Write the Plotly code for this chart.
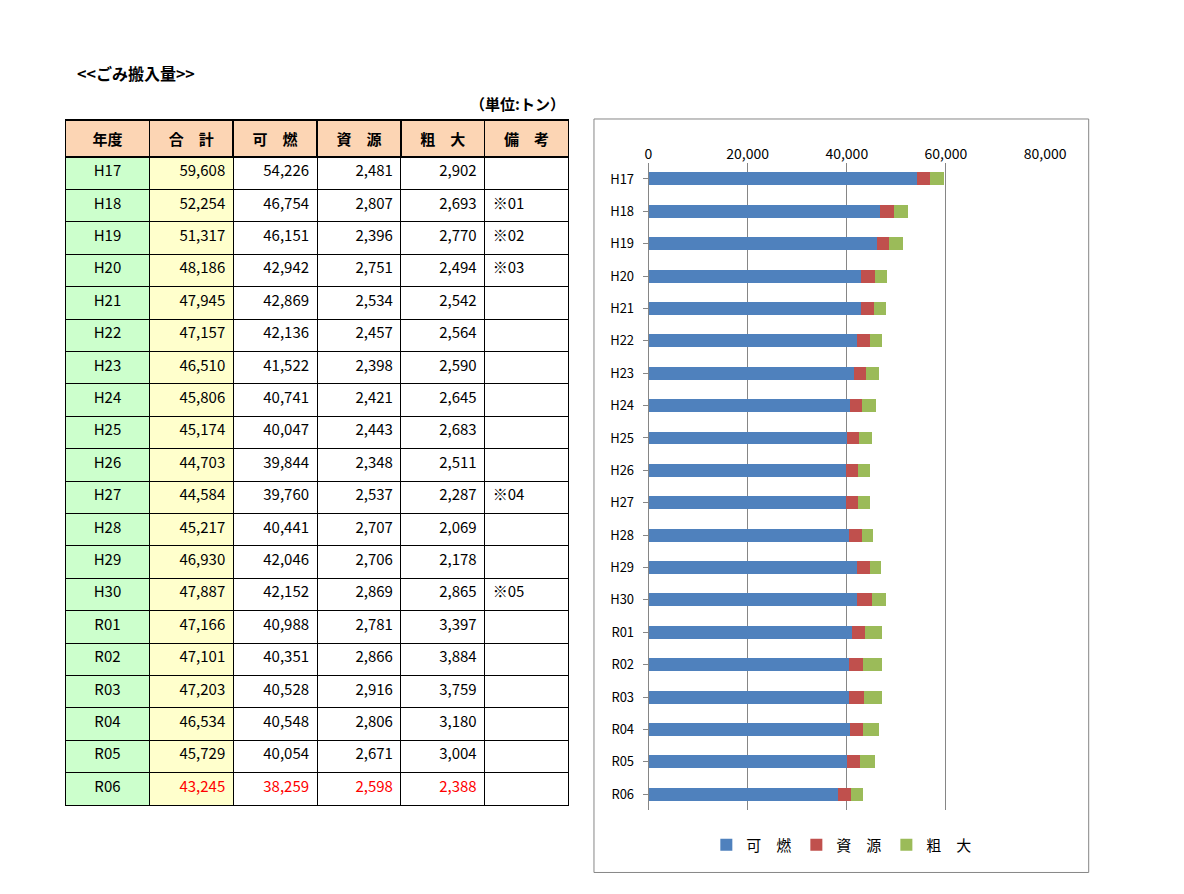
import plotly.graph_objects as go

years = ['H17', 'H18', 'H19', 'H20', 'H21', 'H22', 'H23', 'H24', 'H25', 'H26', 'H27',
         'H28', 'H29', 'H30', 'R01', 'R02', 'R03', 'R04', 'R05', 'R06']
kanen = [54226, 46754, 46151, 42942, 42869, 42136, 41522, 40741, 40047, 39844, 39760,
         40441, 42046, 42152, 40988, 40351, 40528, 40548, 40054, 38259]
shigen = [2481, 2807, 2396, 2751, 2534, 2457, 2398, 2421, 2443, 2348, 2537,
          2707, 2706, 2869, 2781, 2866, 2916, 2806, 2671, 2598]
sodai = [2902, 2693, 2770, 2494, 2542, 2564, 2590, 2645, 2683, 2511, 2287,
         2069, 2178, 2865, 3397, 3884, 3759, 3180, 3004, 2388]
totals = [59608, 52254, 51317, 48186, 47945, 47157, 46510, 45806, 45174, 44703, 44584,
          45217, 46930, 47887, 47166, 47101, 47203, 46534, 45729, 43245]
notes = ['', '※01', '※02', '※03', '', '', '', '', '', '', '※04',
         '', '', '※05', '', '', '', '', '', '']
headers = ['年度', '合　計', '可　燃', '資　源', '粗　大', '備　考']

W, H = 1184, 894
# page body margin shrinks the drawing area a little
def px(x): return (x - 8) / (W - 16)
def py(y): return 1 - (y - 8) / (H - 16)

fmt = lambda v: [f'{x:,}' for x in v]
n = len(years)
red_last = ['black'] * (n - 1) + ['red']

fig = go.Figure()

fig.add_trace(go.Table(
    domain=dict(x=[px(62), px(570)], y=[py(802), py(118)]),
    columnwidth=[1, 1, 1, 1, 1, 1],
    header=dict(
        values=[f'<b>{h}</b>' for h in headers],
        fill_color='#fcd5b4',
        line=dict(color='black', width=1.5),
        align='center',
        font=dict(size=15, color='black'),
        height=32,
    ),
    cells=dict(
        values=[years, fmt(totals), fmt(kanen), fmt(shigen), fmt(sodai), notes],
        fill_color=[['#ccffcc'] * n, ['#ffffcc'] * n, ['white'] * n,
                    ['white'] * n, ['white'] * n, ['white'] * n],
        line=dict(color='black', width=1),
        align=['center', 'right', 'right', 'right', 'right', 'left'],
        font=dict(size=15, color=[['black'] * n, red_last, red_last,
                                  red_last, red_last, ['black'] * n]),
        height=32.4,
    ),
))

colors = ['#4f81bd', '#c0504d', '#9bbb59']
for name, vals, c in [('可　燃', kanen, colors[0]), ('資　源', shigen, colors[1]),
                      ('粗　大', sodai, colors[2])]:
    fig.add_trace(go.Bar(y=years, x=vals, name=name, orientation='h',
                         marker=dict(color=c, line=dict(width=0)), width=0.4))

fig.update_layout(
    width=W, height=H,
    margin=dict(l=0, r=0, t=0, b=0),
    barmode='stack',
    plot_bgcolor='white', paper_bgcolor='white',
    font=dict(family='Noto Sans CJK JP, sans-serif', size=13, color='black'),
    xaxis=dict(domain=[px(650), px(1050)], range=[0, 80000], side='top',
               tickvals=[0, 20000, 40000, 60000, 80000], tickformat=',',
               showgrid=True, gridcolor='#868686', zeroline=False,
               tickfont=dict(size=14)),
    yaxis=dict(domain=[py(796), py(160)], autorange='reversed',
               showline=True, linecolor='#868686', ticks='outside',
               ticklen=5, tickcolor='#868686', ticksuffix='  ',
               tickfont=dict(size=13)),
    legend=dict(orientation='h', x=px(845), xanchor='center', y=py(830),
                yanchor='middle', traceorder='normal', font=dict(size=15)),
    shapes=[dict(type='rect', xref='paper', yref='paper',
                 x0=px(595), x1=px(1094), y0=py(857), y1=py(117),
                 line=dict(color='#868686', width=1))],
    annotations=[
        dict(text='<b>&lt;&lt;ごみ搬入量&gt;&gt;</b>', xref='paper', yref='paper',
             x=px(72), y=py(72), xanchor='left', yanchor='middle',
             showarrow=False, font=dict(size=16)),
        dict(text='<b>（単位:トン）</b>', xref='paper', yref='paper',
             x=px(568), y=py(102), xanchor='right', yanchor='middle',
             showarrow=False, font=dict(size=15)),
    ],
)

fig.write_html('out.html')
